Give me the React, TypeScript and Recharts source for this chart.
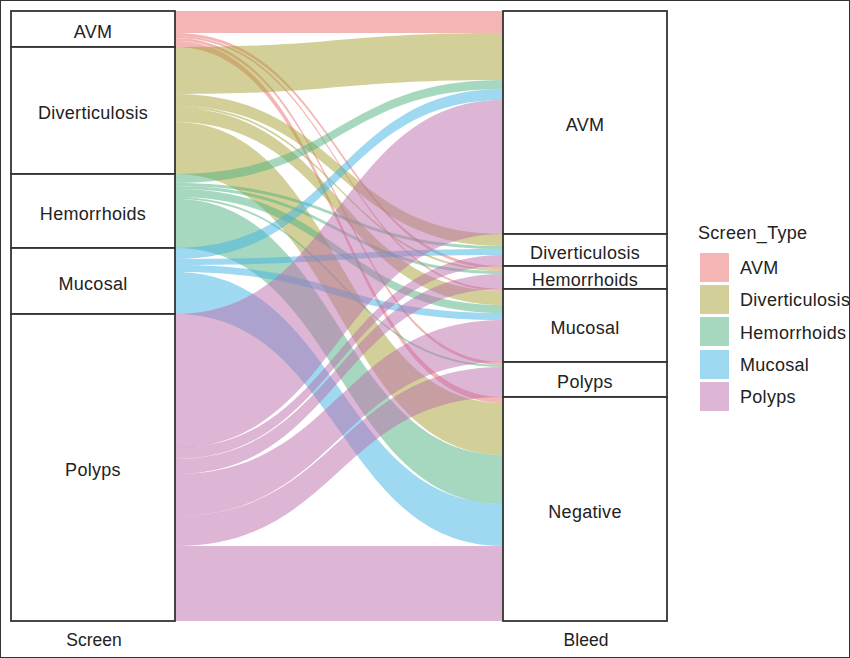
import { Sankey } from 'recharts'

// left axis (Screen) and right axis (Bleed) strata, top to bottom
const screenTypes = ['AVM', 'Diverticulosis', 'Hemorrhoids', 'Mucosal', 'Polyps']
const bleedTypes = ['AVM', 'Diverticulosis', 'Hemorrhoids', 'Mucosal', 'Polyps', 'Negative']

// counts from each screen type into the bleed types (same order as bleedTypes)
const avmFlows = [22, 0, 3, 2, 3, 6]
const diverticulosisFlows = [47, 12, 2, 14, 0, 52]
const hemorrhoidsFlows = [9, 3, 3, 8, 2, 49]
const mucosalFlows = [11, 6, 0, 7, 0, 42]
const polypsFlows = [134, 11, 15, 42, 30, 75]

const flowRows = [avmFlows, diverticulosisFlows, hemorrhoidsFlows, mucosalFlows, polypsFlows]

// ggplot hues after alpha on white
const fillColors = ['#E96D6B', '#A5A131', '#4DB181', '#3FB1E3', '#BB6BAB']
const legendColors = ['#F4B6B5', '#D2D098', '#A6D8C0', '#9FD8F1', '#DDB5D5']

const nodes = [
  ...screenTypes.map(name => ({ name })),
  ...bleedTypes.map(name => ({ name })),
]

const links: { source: number; target: number; value: number }[] = []
flowRows.forEach((row, s) => {
  row.forEach((value, t) => {
    if (value > 0) links.push({ source: s, target: screenTypes.length + t, value })
  })
})

const FONT = '"Liberation Sans", Arial, Helvetica, sans-serif'

const FlowLink = (props: any) => {
  const { sourceX, targetX, sourceY, targetY, sourceControlX, targetControlX, linkWidth, index } = props
  const h = linkWidth / 2
  const d = `M${sourceX},${sourceY - h} C${sourceControlX},${sourceY - h} ${targetControlX},${targetY - h} ${targetX},${targetY - h}
    L${targetX},${targetY + h} C${targetControlX},${targetY + h} ${sourceControlX},${sourceY + h} ${sourceX},${sourceY + h} Z`
  const color = fillColors[links[index].source]
  return <path d={d} fill={color} fillOpacity={0.5} stroke="none" />
}

const StratumNode = (props: any) => {
  const { x, y, width, height, payload } = props
  return (
    <g>
      <rect x={x} y={y} width={width} height={height} fill="#fff" stroke="#333" strokeWidth={1.8} />
      <text
        x={x + width / 2}
        y={y + height / 2 + 2.5}
        textAnchor="middle"
        dominantBaseline="central"
        fontFamily={FONT}
        fontSize={18}
        letterSpacing={0.3}
        fill="#222"
      >
        {payload.name}
      </text>
    </g>
  )
}

export default function App() {
  return (
    <div
      style={{
        position: 'absolute',
        left: 0,
        top: 0,
        width: 850,
        height: 658,
        boxSizing: 'border-box',
        border: '1px solid #333',
        background: '#fff',
        fontFamily: FONT,
        overflow: 'hidden',
      }}
    >
      <div style={{ position: 'absolute', left: -1, top: -1 }}>
        <Sankey
          width={850}
          height={658}
          data={{ nodes, links }}
          margin={{ top: 11, left: 11, right: 183, bottom: 37 }}
          nodeWidth={164}
          nodePadding={0}
          iterations={0}
          linkCurvature={0.5}
          link={FlowLink}
          node={StratumNode}
          isAnimationActive={false}
        />
      </div>

      <div style={{ position: 'absolute', left: 11, width: 164, top: 629, textAlign: 'center', fontSize: 17.5, color: '#222' }}>
        Screen
      </div>
      <div style={{ position: 'absolute', left: 503, width: 164, top: 629, textAlign: 'center', fontSize: 17.5, color: '#222' }}>
        Bleed
      </div>

      <div style={{ position: 'absolute', left: 697, top: 222 }}>
        <div style={{ fontSize: 18, color: '#222', marginBottom: 7, letterSpacing: 0.3 }}>Screen_Type</div>
        {screenTypes.map((name, i) => (
          <div key={name} style={{ display: 'flex', alignItems: 'center', height: 32.3 }}>
            <div style={{ width: 29, height: 29, background: legendColors[i], marginLeft: 2 }} />
            <div style={{ marginLeft: 11, fontSize: 18, color: '#222', whiteSpace: 'nowrap', letterSpacing: 0.3, paddingTop: 3 }}>{name}</div>
          </div>
        ))}
      </div>
    </div>
  )
}
